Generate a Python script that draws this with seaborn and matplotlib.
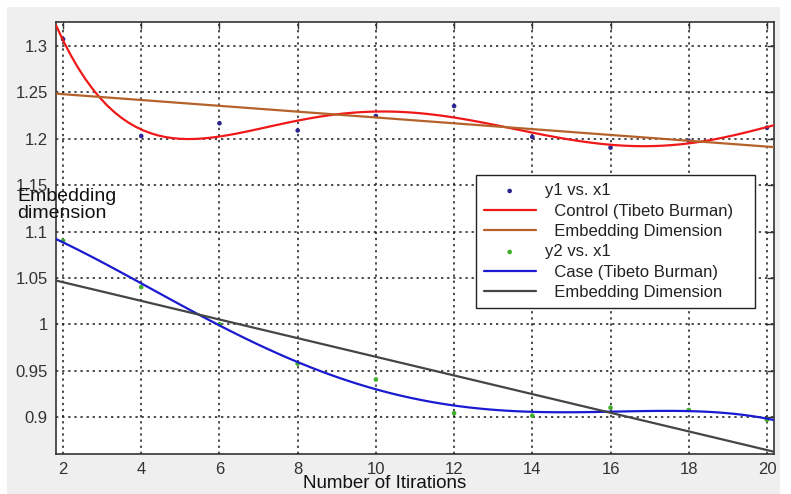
import numpy as np
import pandas as pd
import matplotlib
matplotlib.use("Agg")
import matplotlib.pyplot as plt
from matplotlib.patches import Rectangle
import seaborn as sns

# values
iterations = [2, 4, 6, 8, 10, 12, 14, 16, 18, 20]
control_y1 = [1.3075, 1.203, 1.2168, 1.209, 1.2246, 1.2353, 1.202, 1.1905, 1.198, 1.212]
case_y2 = [1.09, 1.04, 1.0, 0.9575, 0.9404, 0.904, 0.9014, 0.910, 0.9075, 0.897]

x_ticks = [2, 4, 6, 8, 10, 12, 14, 16, 18, 20]
y_ticks = [0.9, 0.95, 1.0, 1.05, 1.1, 1.15, 1.2, 1.25, 1.3]
y_tick_labels = ['0.9', '0.95', '1', '1.05', '1.1', '1.15', '1.2', '1.25', '1.3']

df = pd.DataFrame({'x1': iterations, 'y1': control_y1, 'y2': case_y2})

sns.set_style("white")
plt.rcParams['font.family'] = ['Liberation Sans', 'DejaVu Sans']

fig = plt.figure(figsize=(7.91, 4.94), dpi=100, facecolor='white')
# grey window background like the matlab figure
bg = Rectangle((7 / 791, 0), 773 / 791, 487 / 494, transform=fig.transFigure,
               facecolor='#efefef', edgecolor='none', zorder=-10)
fig.add_artist(bg)
ax = fig.add_axes([56 / 791, 1 - 454 / 494, 718 / 791, 432 / 494])
ax.set_zorder(1)
ax.set_facecolor('white')
ax.set_xlim(1.82, 20.18)
ax.set_ylim(0.86, 1.326)


def add_fit(col, order, color, label):
    # regplot line over the full x range, then give it a legend label
    sns.regplot(data=df, x='x1', y=col, ax=ax, order=order, ci=None, scatter=False,
                truncate=False, line_kws={'color': color, 'lw': 1.6, 'zorder': 3})
    ax.lines[-1].set_label(label)


# control group
sns.scatterplot(data=df, x='x1', y='y1', ax=ax, color='#2e2490', s=11, marker='o',
                edgecolor='none', label='y1 vs. x1', zorder=2.5, legend=False)
add_fit('y1', 5, '#f01818', '  Control (Tibeto Burman)   ')
add_fit('y1', 1, '#b5622a', '  Embedding Dimension')

# case group
sns.scatterplot(data=df, x='x1', y='y2', ax=ax, color='#3fae2a', s=11, marker='o',
                edgecolor='none', label='y2 vs. x1', zorder=2.5, legend=False)
add_fit('y2', 4, '#1a1ad0', '  Case (Tibeto Burman)')
add_fit('y2', 1, '#454545', '  Embedding Dimension')

ax.set_xlim(1.82, 20.18)
ax.set_ylim(0.86, 1.326)
ax.set_xticks(x_ticks)
ax.set_xticklabels([str(t) for t in x_ticks])
ax.set_yticks(y_ticks)
ax.set_yticklabels(y_tick_labels)
ax.set_xlabel('')
ax.set_ylabel('')

ax.grid(True, color='#1a1a1a', linestyle=(0, (1.5, 2.5)), linewidth=1.1)
ax.set_axisbelow(True)
ax.tick_params(direction='in', length=5, width=1, top=True, right=True,
               labelsize=12, pad=6, colors='#333333', labelcolor='#333333')
for side in ['left', 'bottom', 'top', 'right']:
    ax.spines[side].set_visible(True)
    ax.spines[side].set_color('#333333')
    ax.spines[side].set_linewidth(1.2)

handles, labels = ax.get_legend_handles_labels()
emb = [i for i, l in enumerate(labels) if l == '  Embedding Dimension']
order_idx = [labels.index('y1 vs. x1'), labels.index('  Control (Tibeto Burman)   '), emb[0],
             labels.index('y2 vs. x1'), labels.index('  Case (Tibeto Burman)'), emb[1]]
leg = ax.legend([handles[i] for i in order_idx], [labels[i] for i in order_idx],
                loc='upper right', bbox_to_anchor=(755 / 791, 1 - 175 / 494),
                bbox_transform=fig.transFigure, fontsize=12, frameon=True, fancybox=False,
                handlelength=3.1, handletextpad=0.55, labelspacing=0.32, borderpad=0.5,
                markerscale=1.0, borderaxespad=0)
leg.get_frame().set_edgecolor('#222222')
leg.get_frame().set_linewidth(1.0)
leg.get_frame().set_facecolor('white')
leg.get_frame().set_alpha(1)
for t in leg.get_texts():
    t.set_color('#222222')

fig.text(17 / 791, 1 - 205 / 494, 'Embedding\ndimension', fontsize=14, ha='left', va='center',
         linespacing=1.0, color='#111111', zorder=5)
fig.text(385 / 791, 1 - 483 / 494, 'Number of Itirations', fontsize=13.5, ha='center', va='center',
         color='#111111')

fig.savefig('out.png', dpi=100, facecolor=fig.get_facecolor())
